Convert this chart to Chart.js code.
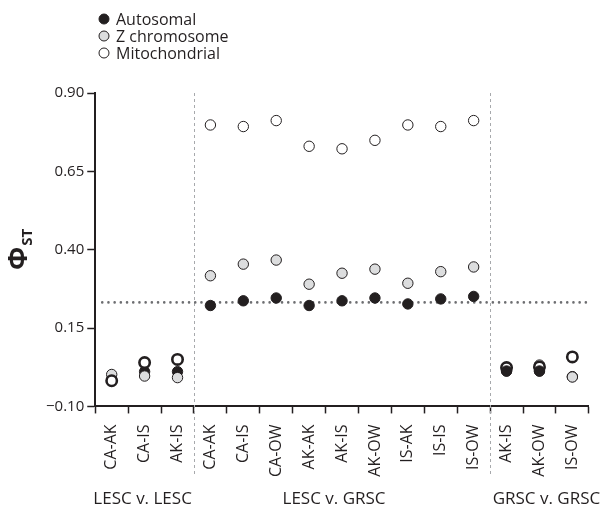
<!DOCTYPE html>
<html>
<head>
<meta charset="utf-8">
<script src="https://cdn.jsdelivr.net/npm/chart.js@4"></script>
<style>
	html, body { margin: 0; padding: 0; background: #fff; }
	#wrap { width: 603px; height: 511px; }
</style>
</head>
<body>
<div id="wrap"><canvas id="phi-chart"></canvas></div>
<script>
const categories = ['CA-AK', 'CA-IS', 'AK-IS', 'CA-AK', 'CA-IS', 'CA-OW', 'AK-AK', 'AK-IS', 'AK-OW', 'IS-AK', 'IS-IS', 'IS-OW', 'AK-IS', 'AK-OW', 'IS-OW']
const autosomal = [-0.015, 0.011, 0.011, 0.222, 0.237, 0.246, 0.222, 0.237, 0.246, 0.227, 0.243, 0.251, 0.013, 0.013, -0.005]
const zChromosome = [0.002, -0.003, -0.008, 0.317, 0.354, 0.367, 0.290, 0.325, 0.338, 0.293, 0.330, 0.345, 0.022, 0.032, -0.006]
const mitochondrial = [-0.018, 0.040, 0.050, 0.798, 0.793, 0.812, 0.730, 0.722, 0.749, 0.798, 0.793, 0.812, 0.024, 0.026, 0.058]
const groups = [
	{ label: 'LESC v. LESC', from: 0, to: 2 },
	{ label: 'LESC v. GRSC', from: 3, to: 11 },
	{ label: 'GRSC v. GRSC', from: 12, to: 14 }
]
const threshold = 0.232
const yTicks = [-0.10, 0.15, 0.40, 0.65, 0.90]

const ink = '#231f20'
const font = '"Open Sans", sans-serif'
const groupNudge = [-2, -8, 7]

const inGroupEnds = i => i <= 2 || i >= 12

const extras = {
	id: 'extras',
	beforeDatasetsDraw(chart) {
		const { ctx, chartArea: a, scales: { x, y } } = chart
		ctx.save()
		// group separators
		ctx.strokeStyle = '#a7a9ac'
		ctx.lineWidth = 1
		ctx.setLineDash([3, 3])
		groups.slice(1).forEach(g => {
			const px = Math.round((x.getPixelForValue(g.from - 1) + x.getPixelForValue(g.from)) / 2) + 0.5
			ctx.beginPath()
			ctx.moveTo(px, a.top)
			ctx.lineTo(px, a.bottom + 70)
			ctx.stroke()
		})
		// dotted threshold line
		ctx.strokeStyle = '#6d6e71'
		ctx.lineWidth = 2.6
		ctx.lineCap = 'round'
		ctx.setLineDash([0, 6.2])
		const py = y.getPixelForValue(threshold)
		ctx.beginPath()
		ctx.moveTo(a.left + 7, py)
		ctx.lineTo(a.right, py)
		ctx.stroke()
		ctx.restore()
	},
	afterDatasetsDraw(chart) {
		// autosomal points sit on top in the GRSC v. GRSC group
		const meta = chart.getDatasetMeta(0)
		meta.data.forEach((pt, i) => { if (i === 12 || i === 13) pt.draw(chart.ctx) })
	},
	afterDraw(chart) {
		const { ctx, scales: { x } } = chart
		ctx.save()
		ctx.fillStyle = ink
		// legend
		chart.data.datasets.forEach((ds, i) => {
			const cy = 19 + i * 17
			ctx.beginPath()
			ctx.arc(104, cy, 5, 0, Math.PI * 2)
			ctx.fillStyle = ds.backgroundColor
			ctx.fill()
			ctx.lineWidth = 1
			ctx.strokeStyle = ink
			ctx.stroke()
			ctx.fillStyle = ink
			ctx.font = '16px ' + font
			ctx.textBaseline = 'middle'
			ctx.textAlign = 'left'
			ctx.fillText(ds.label, 116, cy + 1)
		})
		// group labels
		ctx.font = '17px ' + font
		ctx.textAlign = 'center'
		ctx.textBaseline = 'middle'
		groups.forEach((g, i) => {
			const cx = (x.getPixelForValue(g.from) + x.getPixelForValue(g.to)) / 2
			ctx.fillText(g.label, cx + groupNudge[i], 499)
		})
		// y axis title: Phi with ST subscript
		ctx.translate(27, 250)
		ctx.rotate(-Math.PI / 2)
		ctx.textAlign = 'left'
		ctx.textBaseline = 'alphabetic'
		ctx.font = 'bold 27px ' + font
		const w1 = ctx.measureText('Φ').width
		ctx.font = 'bold 15px ' + font
		const w2 = ctx.measureText('ST').width
		const start = -(w1 + w2) / 2
		ctx.font = 'bold 27px ' + font
		ctx.fillText('Φ', start, 0)
		ctx.font = 'bold 15px ' + font
		ctx.fillText('ST', start + w1 + 1, 5)
		ctx.restore()
	}
}

document.addEventListener('DOMContentLoaded', () => {
	const ctx = document.getElementById('phi-chart')
	new Chart(ctx, {
		type: 'scatter',
		data: {
			labels: categories,
			datasets: [{
				label: 'Autosomal',
				data: autosomal,
				backgroundColor: ink,
				borderColor: ink,
				borderWidth: 1,
				order: 3
			},
			{
				label: 'Z chromosome',
				data: zChromosome,
				backgroundColor: '#dcddde',
				borderColor: ink,
				borderWidth: 1,
				order: 2
			},
			{
				label: 'Mitochondrial',
				data: mitochondrial,
				backgroundColor: '#ffffff',
				borderColor: ink,
				borderWidth: ctx => inGroupEnds(ctx.dataIndex) ? 2.6 : 1,
				order: 1
			}]
		},
		options: {
			responsive: true,
			maintainAspectRatio: false,
			animation: false,
			elements: { point: { radius: 5.2, hoverRadius: 5.2 } },
			layout: { padding: { top: 93, left: 43, right: 13, bottom: 23 } },
			plugins: {
				legend: { display: false },
				tooltip: { enabled: false }
			},
			scales: {
				x: {
					type: 'category',
					offset: true,
					grid: {
						offset: true,
						drawOnChartArea: false,
						tickLength: 7,
						tickColor: ink,
						tickWidth: 1.5
					},
					border: { color: ink, width: 2 },
					ticks: {
						color: ink,
						font: { family: font, size: 16 },
						minRotation: 90,
						maxRotation: 90,
						padding: 11,
						autoSkip: false
					}
				},
				y: {
					min: -0.10,
					max: 0.90,
					afterBuildTicks: axis => { axis.ticks = yTicks.map(v => ({ value: v })) },
					grid: {
						drawOnChartArea: false,
						tickLength: 8,
						tickColor: ink,
						tickWidth: 1.5
					},
					border: { color: ink, width: 2 },
					ticks: {
						color: ink,
						font: { family: font, size: 15 },
						padding: 3,
						callback: v => v.toFixed(2).replace('-', '\u2212')
					}
				}
			}
		},
		plugins: [extras]
	})
})
</script>
</body>
</html>
